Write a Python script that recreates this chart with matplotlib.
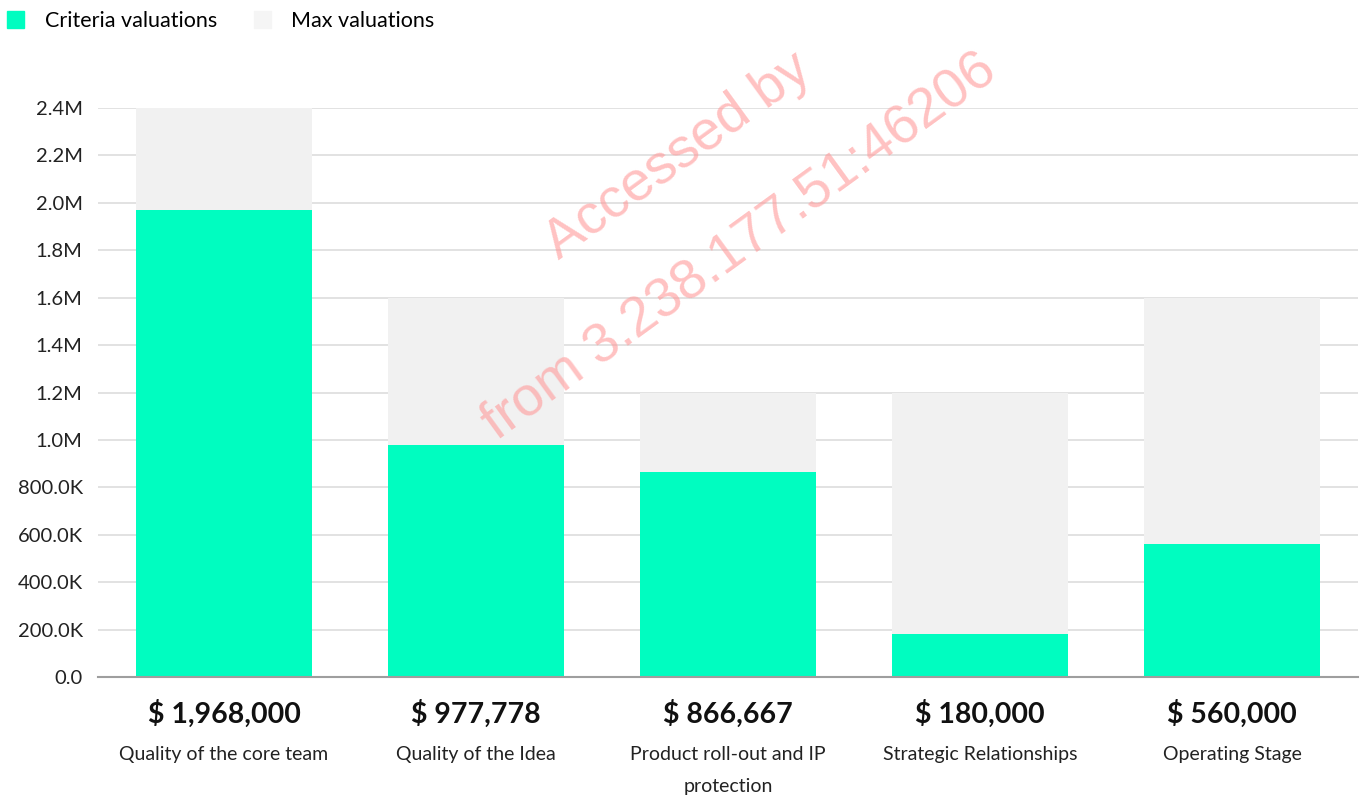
import matplotlib
matplotlib.use("Agg")
import matplotlib.pyplot as plt
from matplotlib.patches import Patch
from matplotlib.ticker import FuncFormatter
from matplotlib.transforms import blended_transform_factory

plt.rcParams["font.family"] = ["Lato", "DejaVu Sans"]

categories = ["Quality of the core team", "Quality of the Idea",
              "Product roll-out and IP\nprotection", "Strategic Relationships",
              "Operating Stage"]
criteria_vals = [1968000, 977778, 866667, 180000, 560000]
max_vals = [2400000, 1600000, 1200000, 1200000, 1600000]
yticks = [0, 200000, 400000, 600000, 800000, 1000000, 1200000,
          1400000, 1600000, 1800000, 2000000, 2200000, 2400000]

GREEN = "#00FDC0"
GREY = "#F1F1F1"


def fmt(v, _pos=None):
    if v >= 1e6:
        return f"{v / 1e6:.1f}M"
    if v >= 1e3:
        return f"{v / 1e3:.1f}K"
    return f"{v:.1f}"


fig = plt.figure(figsize=(13.64, 7.96), dpi=100)
ax = fig.add_axes([0.0718, 0.1495, 0.9238, 0.7148])

x = list(range(len(categories)))
ax.bar(x, max_vals, width=0.70, color=GREY, zorder=2)
ax.bar(x, criteria_vals, width=0.70, color=GREEN, zorder=3)

ax.set_xlim(-0.5, len(categories) - 0.5)
ax.set_ylim(0, 2400000)
ax.set_yticks(yticks)
ax.yaxis.set_major_formatter(FuncFormatter(fmt))
ax.set_xticks([])
ax.tick_params(axis="y", length=0, pad=11, labelsize=14.5, labelcolor="#222222")
ax.grid(axis="y", color="#DDDDDD", linewidth=1.2, zorder=1)
for s in ["top", "right", "left"]:
    ax.spines[s].set_visible(False)
ax.spines["bottom"].set_color("#9E9E9E")
ax.spines["bottom"].set_linewidth(1.5)
ax.spines["bottom"].set_zorder(4)

tr = blended_transform_factory(ax.transData, ax.transAxes)
for xi, v, cat in zip(x, criteria_vals, categories):
    ax.text(xi, -0.065, f"$ {v:,.0f}", transform=tr, ha="center", va="center",
            fontsize=20.5, fontweight="bold", color="#111111")
    ax.text(xi, -0.121, cat, transform=tr, ha="center", va="top",
            fontsize=14, color="#222222", linespacing=2.05)

handles = [Patch(color=GREEN, label="Criteria valuations"),
           Patch(color="#F5F5F5", label="Max valuations")]
fig.legend(handles=handles, loc="upper left",
           bbox_to_anchor=(7 / 1364, 1 - 11 / 796),
           ncol=2, frameon=False, fontsize=15.5, handlelength=0.8,
           handleheight=0.8, handletextpad=0.95, columnspacing=1.7,
           borderpad=0, borderaxespad=0)

# watermark
fig.text(0.497, 0.803, "Accessed by", rotation=36, ha="center", va="center",
         fontsize=40, color="#FF9999", alpha=0.6, family="Liberation Sans",
         rotation_mode="anchor")
fig.text(0.542, 0.69, "from 3.238.177.51:46206", rotation=36, ha="center",
         va="center", fontsize=40, color="#FF9999", alpha=0.6,
         family="Liberation Sans", rotation_mode="anchor")

fig.savefig("out.png", dpi=100)
